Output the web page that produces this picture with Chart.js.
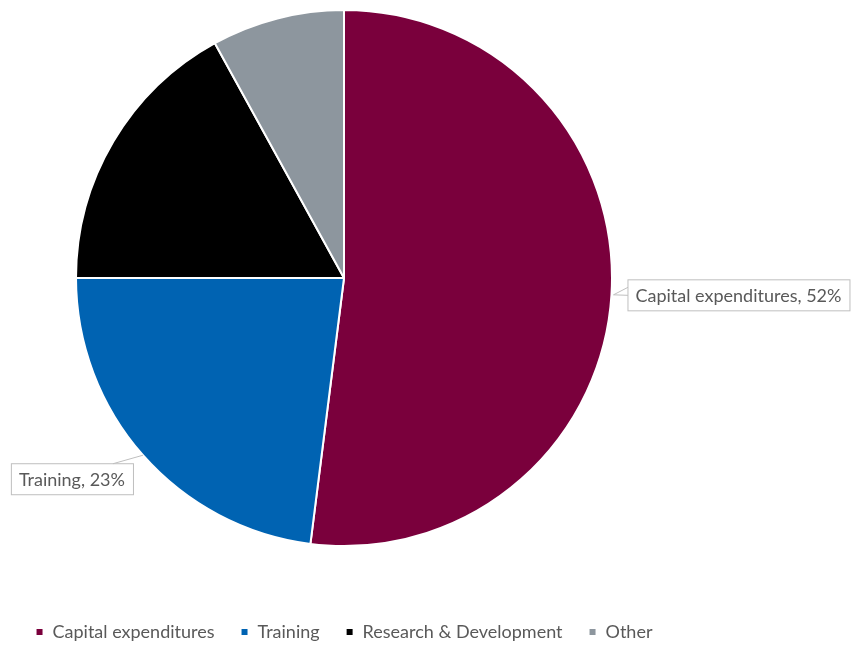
<!DOCTYPE html>
<html>
<head>
<meta charset="utf-8">
<script src="https://cdn.jsdelivr.net/npm/chart.js@4"></script>
<style>
  body { margin: 0; background: #fff; }
  #wrap { width: 852px; height: 645px; }
</style>
</head>
<body>
<div id="wrap"><canvas id="graph"></canvas></div>
<script>
const categories = ["Capital expenditures", "Training", "Research & Development", "Other"];
const shares = [52, 23, 17, 8];
const sliceColors = ["#7a003c", "#0063b2", "#000000", "#8d969e"];
// only these slices carry a callout in the original
const labelled = [0, 1];

const fontFamily = "Lato, 'Open Sans', sans-serif";
const textColor = "#595959";

const callouts = {
  id: "callouts",
  afterDatasetsDraw(chart) {
    const ctx = chart.ctx;
    const meta = chart.getDatasetMeta(0);
    ctx.save();
    ctx.font = "18px " + fontFamily;
    ctx.textBaseline = "middle";
    labelled.forEach((i) => {
      const arc = meta.data[i];
      const mid = (arc.startAngle + arc.endAngle) / 2;
      const ax = arc.x + Math.cos(mid) * arc.outerRadius;
      const ay = arc.y + Math.sin(mid) * arc.outerRadius;
      const text = categories[i] + ", " + shares[i] + "%";
      const w = ctx.measureText(text).width + 16;
      const h = 31;
      let bx, by;
      if (Math.cos(mid) >= 0) {
        bx = ax + 16;
        by = ay - h / 2;
      } else {
        bx = ax - 10 - w;
        by = ay + 8;
      }
      ctx.fillStyle = "#ffffff";
      ctx.strokeStyle = "#bfbfbf";
      ctx.lineWidth = 1;
      ctx.fillRect(bx, by, w, h);
      ctx.strokeRect(bx + 0.5, by + 0.5, w, h);
      ctx.beginPath();
      if (Math.cos(mid) >= 0) {
        ctx.moveTo(bx + 0.5, by + 8);
        ctx.lineTo(ax + 2, ay);
        ctx.lineTo(bx + 0.5, by + 16);
      } else {
        ctx.moveTo(ax, ay);
        ctx.lineTo(bx + w - 20, by + 0.5);
      }
      ctx.stroke();
      ctx.fillStyle = textColor;
      ctx.textAlign = "left";
      ctx.fillText(text, bx + 8, by + h / 2 + 1);
    });
    ctx.restore();
  },
};

new Chart(document.getElementById("graph"), {
  type: "pie",
  data: {
    labels: categories,
    datasets: [
      {
        data: shares,
        backgroundColor: sliceColors,
        borderColor: "#ffffff",
        borderWidth: 2,
      },
    ],
  },
  options: {
    responsive: true,
    maintainAspectRatio: false,
    animation: false,
    layout: { padding: { top: 9, left: 0, right: 164, bottom: 0 } },
    plugins: {
      tooltip: { enabled: false },
      legend: {
        position: "bottom",
        maxHeight: 98,
        title: { display: true, text: "", font: { size: 10, lineHeight: 1 }, padding: { top: 40, bottom: 0 } },
        labels: {
          boxWidth: 8,
          boxHeight: 8,
          padding: 26,
          color: textColor,
          font: { family: fontFamily, size: 18 },
        },
      },
    },
  },
  plugins: [callouts],
});
</script>
</body>
</html>
